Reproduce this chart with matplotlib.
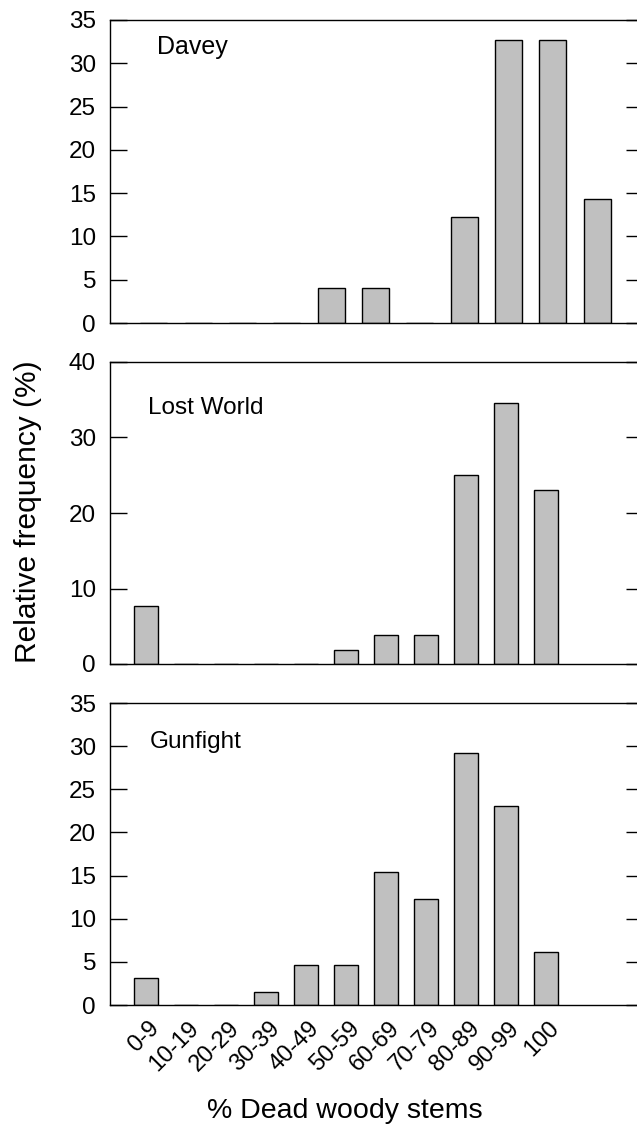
import numpy as np
import matplotlib.pyplot as plt
import matplotlib.transforms as mtransforms

plt.rcParams['font.family'] = ['Liberation Sans', 'DejaVu Sans']

# data (relative frequency, %)
categories = ['0-9', '10-19', '20-29', '30-39', '40-49', '50-59',
              '60-69', '70-79', '80-89', '90-99', '100']
sites = ['Davey', 'Lost World', 'Gunfight']
davey = [0, 0, 0, 0, 4.08, 4.08, 0, 12.24, 32.65, 32.65, 14.29]
lost_world = [7.69, 0, 0, 0, 0, 1.92, 3.85, 3.85, 25.0, 34.62, 23.08]
gunfight = [3.08, 0, 0, 1.54, 4.62, 4.62, 15.38, 12.31, 29.23, 23.08, 6.15]
ymax_list = [35, 40, 35]
ystep_list = [5, 10, 5]

W, H = 637, 1133
fig = plt.figure(figsize=(W / 100, H / 100), dpi=100)

# axes boxes in pixels (left, top, right, bottom)
boxes = [(110, 20, 637, 323), (110, 362, 637, 664), (110, 703, 637, 1005)]
xlims = [(-0.99, 10.9), (-0.9, 12.275), (-0.9, 12.275)]
label_pos = [(157, 47), (148, 408), (150, 742)]
label_size = [18, 17.5, 17.5]

x = np.arange(len(categories))
for k, (vals, name) in enumerate(zip([davey, lost_world, gunfight], sites)):
    l, t, r, b = boxes[k]
    ax = fig.add_axes([l / W, 1 - b / H, (r - l) / W, (b - t) / H])
    ax.bar(x, vals, width=0.61, color='#c0c0c0', edgecolor='black', linewidth=1.0)
    ax.set_xlim(*xlims[k])
    ax.set_ylim(0, ymax_list[k])
    ax.set_yticks(np.arange(0, ymax_list[k] + 1, ystep_list[k]))
    ax.spines['right'].set_visible(False)
    for s in ['left', 'top', 'bottom']:
        ax.spines[s].set_linewidth(1.0)
    ax.tick_params(axis='y', which='both', direction='in', length=12, width=1,
                   left=True, right=True, labelsize=17.5, pad=10)
    ax.tick_params(axis='x', bottom=False)
    lx, ly = label_pos[k]
    fig.text(lx / W, 1 - ly / H, name, fontsize=label_size[k], ha='left', va='center')
    if k < 2:
        ax.set_xticks([])
    else:
        ax.set_xticks(x)
        ax.set_xticklabels(categories, rotation=45, ha='right', va='center',
                           rotation_mode='anchor', fontsize=17)
        offset = mtransforms.ScaledTranslation(10 / 100, -10 / 100, fig.dpi_scale_trans)
        for lab in ax.get_xticklabels():
            lab.set_transform(lab.get_transform() + offset)

# shorter inward ticks on the right edge
for ax in fig.axes:
    for tk in ax.yaxis.get_major_ticks():
        tk.tick2line.set_markersize(8)

fig.text(28 / W, 1 - 512 / H, 'Relative frequency (%)', fontsize=21.5,
         rotation=90, ha='center', va='center')
fig.text(345 / W, 1 - 1111 / H, '% Dead woody stems', fontsize=20.5,
         ha='center', va='center')

fig.savefig('out.png', dpi=100)
